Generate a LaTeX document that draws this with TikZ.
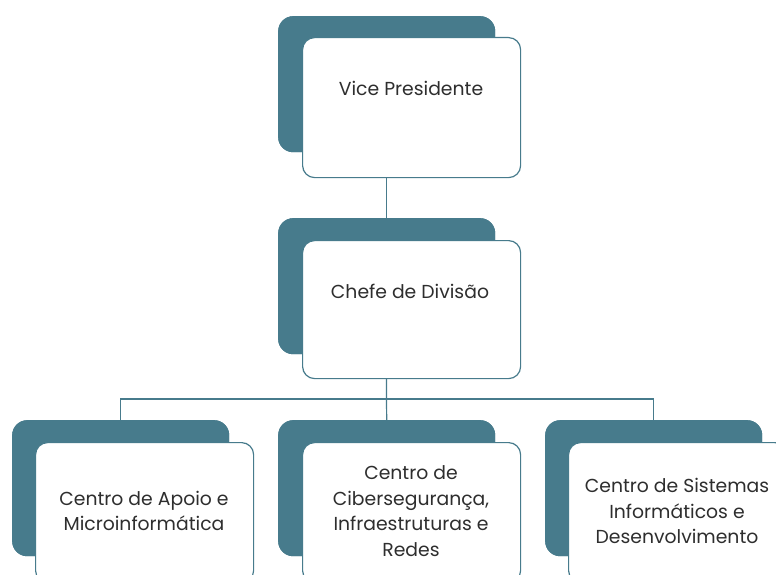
\documentclass[tikz,border=0pt]{standalone}
\usepackage{fontspec}
\setmainfont{Poppins}
\definecolor{teal1}{HTML}{477B8C}
\definecolor{txt}{HTML}{2E2E2E}
\begin{document}
\begin{tikzpicture}[x=1pt,y=-1pt,
  backbox/.style={fill=teal1, draw=none, rounded corners=15pt, minimum width=217pt, minimum height=136pt, inner sep=0pt, anchor=north west},
  frontbox/.style={fill=white, draw=teal1, line width=1.2pt, rounded corners=12pt, minimum width=218pt, minimum height=140pt, inner sep=0pt, anchor=north west},
  lbl/.style={text=txt, font=\fontsize{18.8}{25.5}\selectfont, align=center},
  conn/.style={draw=teal1, line width=1.2pt}]
\useasboundingbox (0,0) rectangle (776,575);
% back boxes
\node[backbox] (vpb) at (278,16) {};
\node[backbox] (cdb) at (278,218) {};
\node[backbox] (b1b) at (12,420) {};
\node[backbox] (b2b) at (278,420) {};
\node[backbox] (b3b) at (545,420) {};
% connectors
\coordinate (bus) at (386.5,399);
\draw[conn] (vpb.south) -- (cdb.north);
\draw[conn] (cdb.south) -- (bus);
\draw[conn] (bus) -| (b1b.north);
\draw[conn] (bus) -| (b3b.north);
\draw[conn] (bus) -- (b2b.north);
% redraw back boxes over connectors
\node[backbox] at (278,16) {};
\node[backbox] at (278,218) {};
\node[backbox] at (12,420) {};
\node[backbox] at (278,420) {};
\node[backbox] at (545,420) {};
% front boxes
\node[frontbox] (vpf) at (302,37) {};
\node[frontbox, minimum height=138pt] (cdf) at (302,240) {};
\node[frontbox] (b1f) at (35,442) {};
\node[frontbox] (b2f) at (302,442) {};
\node[frontbox] (b3f) at (568,442) {};
% labels
\node[lbl] (vpt) at (411,88) {Vice Presidente};
\node[lbl] (cdt) at (410,291) {Chefe de Divisão};
\node[lbl] (b1t) at (144,511) {Centro de Apoio e\\Microinformática};
\node[lbl] (b2t) at (411,511) {Centro de\\Cibersegurança,\\Infraestruturas e\\Redes};
\node[lbl] (b3t) at (677,511) {Centro de Sistemas\\Informáticos e\\Desenvolvimento};
\end{tikzpicture}
\end{document}
